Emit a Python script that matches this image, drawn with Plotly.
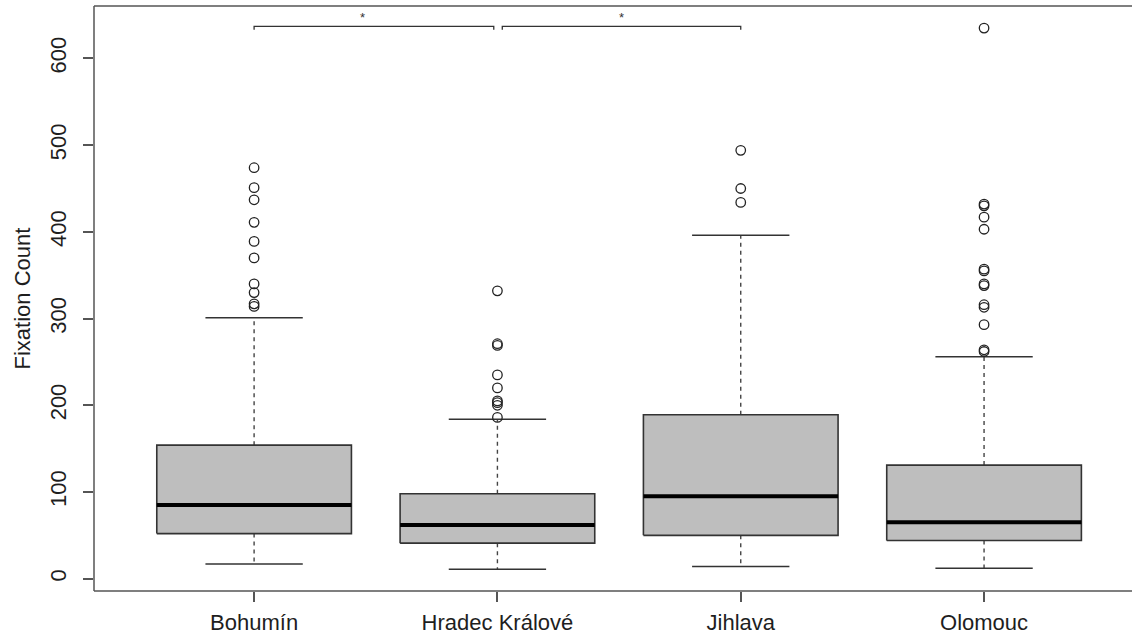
import plotly.graph_objects as go

# Fixation counts per city: five-number summaries and outliers
categories = ["Bohumín", "Hradec Králové", "Jihlava", "Olomouc"]
lower_whisker = [17, 11, 14, 12]
q1 = [52, 41, 50, 44]
median = [85, 62, 95, 65]
q3 = [154, 98, 189, 131]
upper_whisker = [301, 184, 396, 256]
outliers = [
    [474, 451, 437, 411, 389, 370, 340, 330, 317, 314],
    [332, 271, 269, 235, 220, 205, 203, 200, 186],
    [494, 450, 434],
    [635, 432, 430, 417, 403, 357, 355, 340, 338, 316, 313, 293, 264, 262],
]
y_ticks = [0, 100, 200, 300, 400, 500, 600]

# Significance brackets (pairs of category indices) and their labels
comparisons = [(0, 1), (1, 2)]
comparison_labels = ["*", "*"]
bracket_level = 637

positions = list(range(1, len(categories) + 1))

# drawing geometry (in axis units)
half_box = 0.4
half_cap = 0.2
bracket_drop = 4
bracket_gap = 0.02
label_nudge = [-0.045, 0.0]

FONT = "Liberation Sans, Arial, Helvetica, sans-serif"
EDGE = "#333333"
FRAME = "#555555"
TEXT = "#1e1e1e"

fig = go.Figure()

for p, lo, a, m, b, hi, outs in zip(positions, lower_whisker, q1, median, q3,
                                    upper_whisker, outliers):
    # dashed whiskers
    fig.add_trace(go.Scatter(
        x=[p, p, None, p, p], y=[b, hi, None, a, lo], mode="lines",
        line=dict(color="#444444", width=1.4, dash="4px,4px"),
        hoverinfo="skip", showlegend=False))
    # whisker caps
    fig.add_trace(go.Scatter(
        x=[p - half_cap, p + half_cap, None, p - half_cap, p + half_cap],
        y=[hi, hi, None, lo, lo], mode="lines",
        line=dict(color=EDGE, width=1.5),
        hoverinfo="skip", showlegend=False))
    # box
    fig.add_trace(go.Scatter(
        x=[p - half_box, p + half_box, p + half_box, p - half_box, p - half_box],
        y=[a, a, b, b, a], mode="lines", fill="toself",
        fillcolor="#bebebe", line=dict(color=EDGE, width=1.6),
        hoverinfo="skip", showlegend=False))
    # median
    fig.add_trace(go.Scatter(
        x=[p - half_box, p + half_box], y=[m, m], mode="lines",
        line=dict(color="black", width=4),
        hoverinfo="skip", showlegend=False))
    # outliers
    fig.add_trace(go.Scatter(
        x=[p] * len(outs), y=outs, mode="markers",
        marker=dict(symbol="circle-open", size=9.5, color="#222222",
                    line=dict(width=1.3, color="#222222")),
        hoverinfo="y", showlegend=False))

# significance brackets; brackets that meet at a shared box leave a small gap
shared = {i for i in range(len(categories))
          if sum(i in pair for pair in comparisons) > 1}
for (i, j), label, nudge in zip(comparisons, comparison_labels, label_nudge):
    left = positions[i] + (bracket_gap if i in shared else 0)
    right = positions[j] - (bracket_gap * 0.75 if j in shared else 0)
    fig.add_trace(go.Scatter(
        x=[left, left, right, right],
        y=[bracket_level - bracket_drop, bracket_level, bracket_level,
           bracket_level - bracket_drop],
        mode="lines", line=dict(color="#333333", width=1.3),
        hoverinfo="skip", showlegend=False))
    fig.add_annotation(
        x=(left + right) / 2 + nudge, y=bracket_level, text=label, showarrow=False,
        yanchor="bottom", yshift=-1, font=dict(family=FONT, size=13, color="#333333"))

fig.add_annotation(
    text="Fixation Count", xref="paper", yref="paper", x=0, y=0.5,
    xanchor="center", yanchor="middle", xshift=-72, textangle=-90,
    showarrow=False, font=dict(family=FONT, size=22, color=TEXT))

# plot frame: left, bottom and top edges (the right edge runs off the page)
for x0, y0, x1, y1 in [(0, 0, 0, 1), (0, 0, 1, 0), (0, 1, 1, 1)]:
    fig.add_shape(type="line", xref="paper", yref="paper",
                  x0=x0, y0=y0, x1=x1, y1=y1,
                  line=dict(color=FRAME, width=1.5))

fig.update_layout(
    width=1132, height=636,
    margin=dict(l=94, r=0, t=6, b=45),
    paper_bgcolor="white", plot_bgcolor="white",
    font=dict(family=FONT, size=22, color=TEXT),
    xaxis=dict(
        range=[0.342, 4.608], tickvals=positions, ticktext=categories,
        showgrid=False, zeroline=False, showline=False,
        ticks="outside", ticklen=10, tickwidth=1.5, tickcolor=FRAME,
        ticklabelstandoff=2, tickfont=dict(family=FONT, size=22, color=TEXT)),
    yaxis=dict(
        range=[-14.2, 660.5], tickvals=y_ticks,
        showgrid=False, zeroline=False, showline=False,
        ticks="outside", ticklen=10, tickwidth=1.5, tickcolor=FRAME,
        tickangle=-90, ticklabelstandoff=8,
        tickfont=dict(family=FONT, size=22, color=TEXT)),
)

fig.write_html("out.html")
